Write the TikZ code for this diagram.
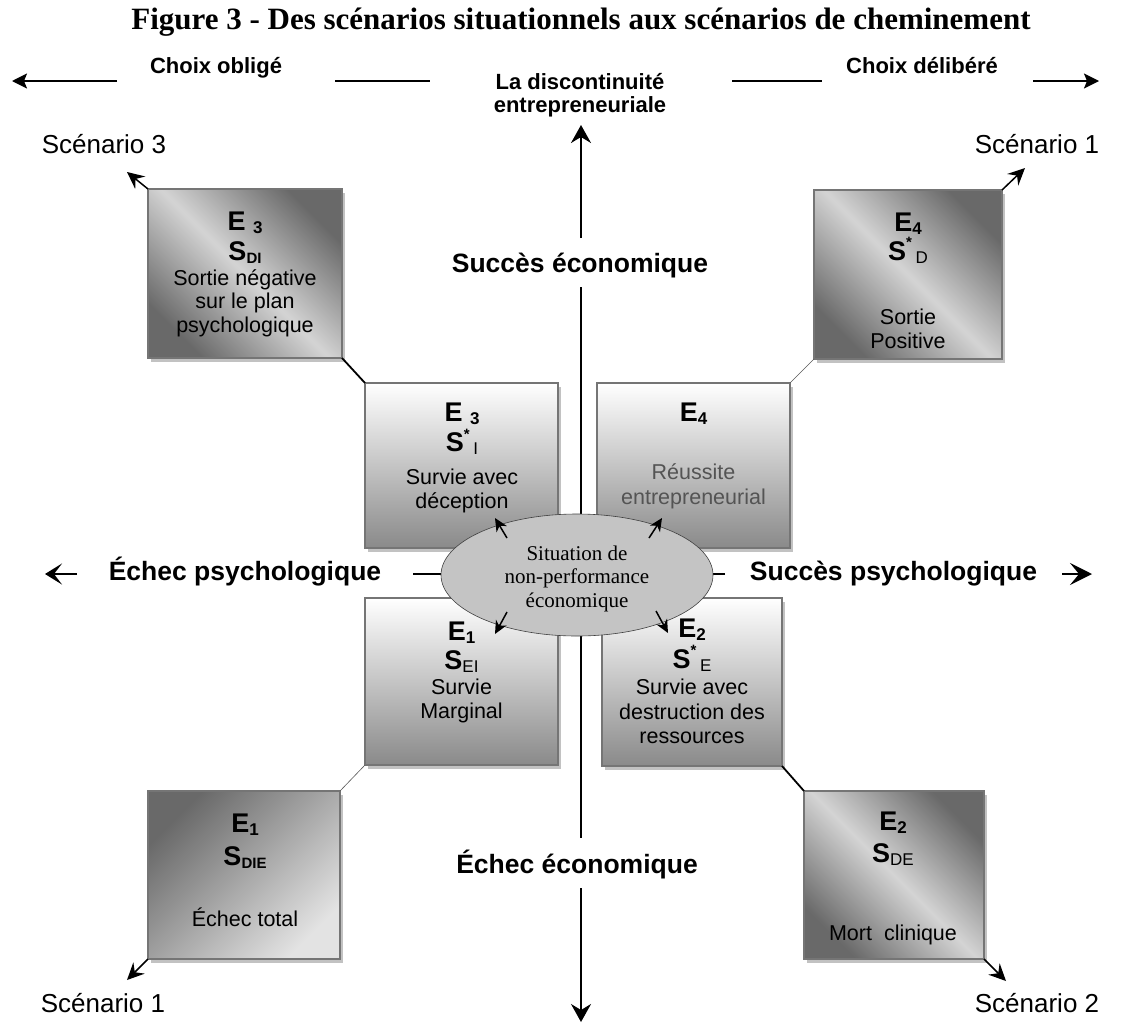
\documentclass[tikz,border=0pt]{standalone}
\usepackage{fontspec}
\setmainfont{Liberation Sans}
\newfontfamily\timesfam{Liberation Serif}
\usetikzlibrary{arrows.meta,shapes.geometric,shadows}

\definecolor{boxdark}{gray}{0.41}
\definecolor{boxlight}{gray}{0.83}
\definecolor{boxpale}{gray}{0.89}
\definecolor{innerlow}{gray}{0.54}
\definecolor{edgegray}{gray}{0.46}
\definecolor{shadowgray}{gray}{0.76}
\definecolor{ellfill}{gray}{0.77}
\definecolor{softtext}{gray}{0.33}

\newcommand\fsz[1]{\fontsize{#1pt}{#1pt}\selectfont}
% small index set just below the baseline
\newcommand\subidx[1]{\raisebox{-0.12em}{\fsz{17}#1}}
% star above, index below (as in S*_D)
\newcommand\starsub[1]{\makebox[0pt][l]{\raisebox{0.45em}{\fsz{15}*}}\hspace{0.35em}\raisebox{-0.12em}{\fsz{17}\mdseries #1}}

\begin{document}
\begin{tikzpicture}[x=1pt,y=-1pt,
  every node/.style={inner sep=0pt, outer sep=0pt},
  frame/.style={draw=edgegray, line width=1.8pt,
     drop shadow={shadow xshift=3pt, shadow yshift=-4pt, fill=shadowgray, opacity=1}},
  crossbox/.style={frame, top color=boxdark, bottom color=boxdark, middle color=boxlight, shading angle=-45},
  slopebox/.style={frame, top color=boxdark, bottom color=boxpale, shading angle=45},
  innerbox/.style={frame, top color=white, bottom color=innerlow},
  ehead/.style={font=\fsz{27}\bfseries, anchor=base},
  body/.style={font=\fsz{21.5}, anchor=base},
  axislabel/.style={font=\fsz{26.5}\bfseries, anchor=base},
  toplabel/.style={font=\fsz{22}\bfseries, anchor=base},
  scen/.style={font=\fsz{26}, anchor=base},
  axisline/.style={line width=2pt},
  axistip/.style={line width=2pt, -{Stealth[length=18pt,width=20pt,inset=6pt]}},
  toptip/.style={line width=2pt, -{Stealth[length=15pt,width=15pt,inset=3pt]}},
  sidetip/.style={line width=2pt, -{Stealth[length=17pt,width=21pt,inset=8pt]}},
  bigtip/.style={line width=2pt, -{Stealth[length=22pt,width=22pt,inset=9pt]}},
  scentip/.style={line width=1.5pt, -{Stealth[length=17pt,width=16pt,inset=6pt]}},
  smalltip/.style={line width=1.5pt, -{Stealth[length=13pt,width=12pt,inset=4pt]}},
  boldlink/.style={line width=1.8pt},
  thinlink/.style={line width=0.6pt, draw=black!65},
]
\fill[white] (0,0) rectangle (1131,1028);
\useasboundingbox (0,0) rectangle (1131,1028);

% ---- title ----
\node[font=\timesfam\fsz{31}\bfseries, anchor=base] (title) at (581,29)
  {Figure 3 - Des scénarios situationnels aux scénarios de cheminement};

% ---- top row ----
\node[toplabel] (oblige) at (216,73) {Choix obligé};
\node[toplabel] (delibere) at (922,73) {Choix délibéré};
\node[toplabel] (disc1) at (580,89) {La discontinuité};
\node[toplabel] (disc2) at (580,112) {entrepreneuriale};
\coordinate (tlA) at (117,81);  \coordinate (tlTip) at (12,81);
\coordinate (tlB) at (335,81);  \coordinate (tlC) at (430,81);
\coordinate (trB) at (732,81);  \coordinate (trC) at (822,81);
\coordinate (trA) at (1033,81); \coordinate (trTip) at (1099,81);
\draw[toptip] (tlA) -- (tlTip);
\draw[axisline] (tlB) -- (tlC);
\draw[axisline] (trB) -- (trC);
\draw[toptip] (trA) -- (trTip);

% ---- vertical axis ----
\coordinate (vTop) at (581,125);
\coordinate (vGapA) at (581,238);
\coordinate (vMidA) at (581,287);
\coordinate (vMidB) at (581,838);
\coordinate (vGapB) at (581,888);
\coordinate (vBot) at (581,1022);
\draw[axistip] (vGapA) -- (vTop);
\draw[axisline] (vMidA) -- (vMidB);
\draw[axistip] (vGapB) -- (vBot);
\node[axislabel] (succeco) at (580,272) {Succès économique};
\node[axislabel] (echeco) at (577,873) {Échec économique};

% ---- horizontal axis ----
\coordinate (ellc) at (577,575);
\node[axislabel] (echpsy) at (245,580) {Échec psychologique};
\node[axislabel] (succpsy) at (893.5,580) {Succès psychologique};
\coordinate (hL) at (413,574);
\coordinate (hR) at (725,574);
\draw[axisline] (hL) -- (hL -| ellc);
\draw[axisline] (hR) -- (hR -| ellc);
\coordinate (lStub) at (77,574);  \coordinate (lTip) at (45,574);
\coordinate (rStub) at (1062,574); \coordinate (rTip) at (1092,574);
\draw[sidetip] (lStub) -- (lTip);
\draw[bigtip] (rStub) -- (rTip);

% ---- outer boxes ----
\node[crossbox, minimum width=194pt, minimum height=169pt] (boxNW) at (245,273.5) {};
\node[crossbox, minimum width=188pt, minimum height=169pt] (boxNE) at (908,274.5) {};
\node[slopebox, minimum width=192pt, minimum height=168pt] (boxSW) at (244,875) {};
\node[crossbox, minimum width=180pt, minimum height=168pt] (boxSE) at (894,875) {};

% ---- inner boxes ----
\node[innerbox, minimum width=193pt, minimum height=165pt] (inNW) at (461.5,465.5) {};
\node[innerbox, minimum width=193pt, minimum height=165pt] (inNE) at (693.5,465.5) {};
\node[innerbox, minimum width=193pt, minimum height=167pt] (inSW) at (461.5,681.5) {};
\node[innerbox, minimum width=180pt, minimum height=168pt] (inSE) at (692,682) {};

% ---- links between paired boxes ----
\draw[boldlink] (boxNW.south east) -- (inNW.north west);
\draw[thinlink] (inNE.north east) -- (boxNE.south west);
\draw[thinlink] (inSW.south west) -- (boxSW.north east);
\draw[boldlink] (inSE.south east) -- (boxSE.north west);

% ---- scenario arrows ----
\coordinate (tipNW) at (127,172);
\coordinate (tipNE) at (1025,168);
\coordinate (tipSW) at (127,980);
\coordinate (tipSE) at (1006,981);
\draw[scentip] (boxNW.north west) -- (tipNW);
\draw[scentip] (boxNE.north east) -- (tipNE);
\draw[scentip] (boxSW.south west) -- (tipSW);
\draw[scentip] (boxSE.south east) -- (tipSE);
\node[scen] (scNW) at (104,153) {Scénario 3};
\node[scen] (scNE) at (1037,153) {Scénario 1};
\node[scen] (scSW) at (103,1012) {Scénario 1};
\node[scen] (scSE) at (1037,1012) {Scénario 2};

% ---- box texts ----
\node[ehead] (nwE) at (245,230) {E \subidx{3}};
\node[ehead] (nwS) at (245,260) {S\subidx{\fsz{15}DI}};
\node[body] (nwT1) at (245,285) {Sortie négative};
\node[body] (nwT2) at (245,308.5) {sur le plan};
\node[body] (nwT3) at (245,332) {psychologique};

\node[ehead] (neE) at (908,231) {E\subidx{4}};
\node[ehead] (neS) at (908,260) {S\starsub{D}};
\node[body] (neT1) at (908,324) {Sortie};
\node[body] (neT2) at (908,348) {Positive};

\node[ehead] (inNWE) at (462,421.5) {E \subidx{3}};
\node[ehead] (inNWS) at (462,451.5) {S\starsub{I}};
\node[body] (inNWT1) at (462,484) {Survie avec};
\node[body] (inNWT2) at (462,508) {déception};

\node[ehead] (inNEE) at (693.5,421.5) {E\subidx{4}};
\node[body, text=softtext] (inNET1) at (693.5,479) {Réussite};
\node[body, text=softtext] (inNET2) at (693.5,504) {entrepreneurial};

\node[ehead] (inSWE) at (461.5,640) {E\subidx{1}};
\node[ehead] (inSWS) at (461.5,669) {S\subidx{\mdseries\fsz{17}EI}};
\node[body] (inSWT1) at (461.5,694) {Survie};
\node[body] (inSWT2) at (461.5,718) {Marginal};

\node[ehead] (inSEE) at (692,637) {E\subidx{2}};
\node[ehead] (inSES) at (692,668) {S\starsub{E}};
\node[body] (inSET1) at (692,694) {Survie avec};
\node[body] (inSET2) at (692,719) {destruction des};
\node[body] (inSET3) at (692,743) {ressources};

\node[ehead] (swE) at (245,832) {E\subidx{1}};
\node[ehead] (swS) at (245,865) {S\subidx{\fsz{15}DIE}};
\node[body] (swT1) at (245,926) {Échec total};

\node[ehead] (seE) at (893,830) {E\subidx{2}};
\node[ehead] (seS) at (893,862) {S\subidx{\mdseries\fsz{17}DE}};
\node[body] (seT1) at (893,940) {Mort\ \ clinique};

% ---- central ellipse ----
\node[ellipse, draw=black!75, line width=0.6pt, fill=ellfill,
      minimum width=272pt, minimum height=122pt] (ell) at (ellc) {};
\node[font=\timesfam\fsz{21}, anchor=base] (ellT1) at (577,560) {Situation de};
\node[font=\timesfam\fsz{21}, anchor=base] (ellT2) at (577,583.5) {non-performance};
\node[font=\timesfam\fsz{21}, anchor=base] (ellT3) at (577,607) {économique};

\coordinate (ulS) at (507,538); \coordinate (ulT) at (495,518);
\coordinate (urS) at (649,538); \coordinate (urT) at (662,518);
\coordinate (llS) at (507,612); \coordinate (llT) at (495,634);
\coordinate (lrS) at (656,611); \coordinate (lrT) at (668,633);
\draw[smalltip] (ulS) -- (ulT);
\draw[smalltip] (urS) -- (urT);
\draw[smalltip] (llS) -- (llT);
\draw[smalltip] (lrS) -- (lrT);
\end{tikzpicture}
\end{document}
